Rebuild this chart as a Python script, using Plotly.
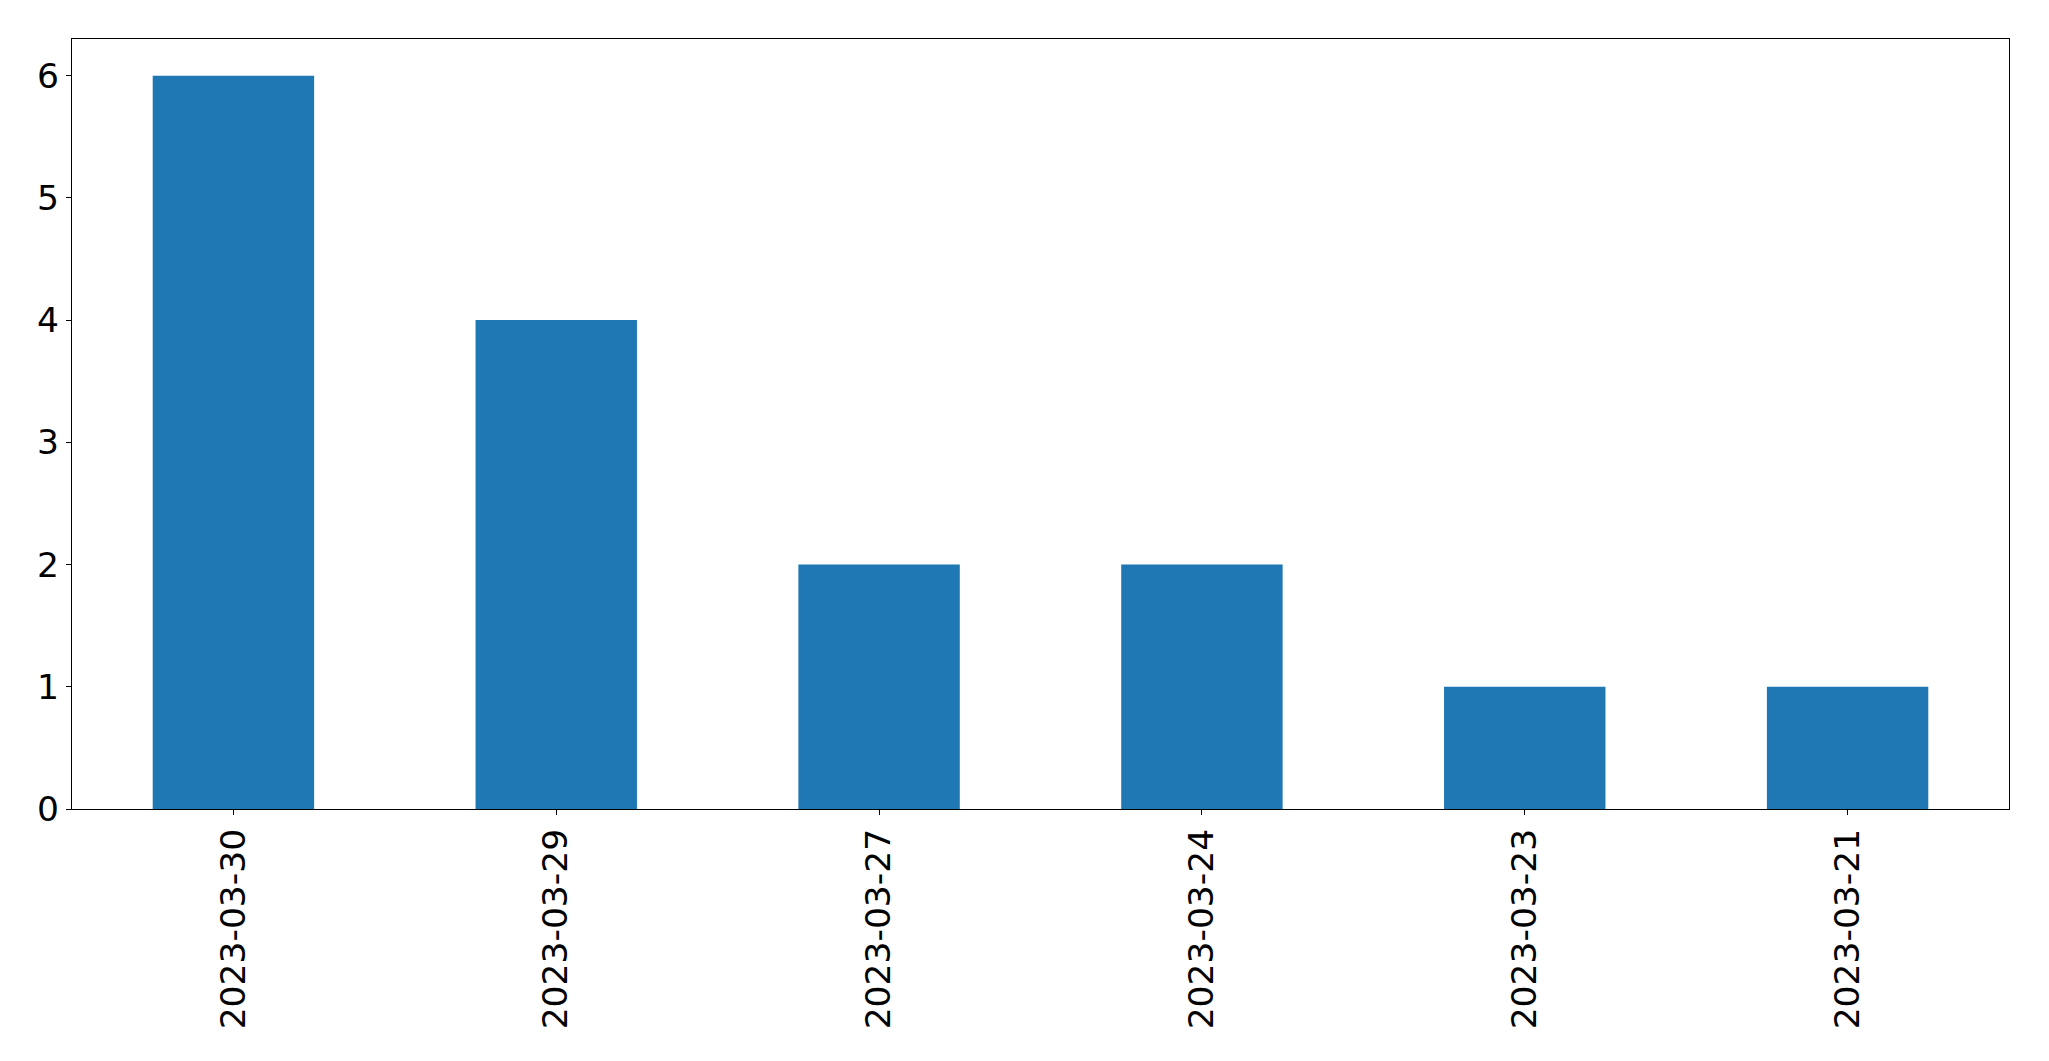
import plotly.graph_objects as go

dates = ["2023-03-30", "2023-03-29", "2023-03-27", "2023-03-24", "2023-03-23", "2023-03-21"]
counts = [6, 4, 2, 2, 1, 1]
y_ticks = [0, 1, 2, 3, 4, 5, 6]

fig = go.Figure(go.Bar(x=dates, y=counts, width=0.5, marker_color="#1f77b4",
                       marker_line_width=0))

font = dict(family="DejaVu Sans", size=34.5, color="black")
axis_common = dict(showline=True, linecolor="black", linewidth=1.1, mirror=True,
                   ticks="outside", ticklen=5, tickwidth=1.1, tickcolor="black",
                   showgrid=False, zeroline=False, tickfont=font, automargin=False)

fig.update_layout(
    width=2049, height=1061,
    margin=dict(l=64, r=48, t=31, b=260),
    paper_bgcolor="white", plot_bgcolor="white",
    showlegend=False,
    xaxis=dict(type="category", range=[-0.5, 5.5], tickangle=-90, **axis_common),
    yaxis=dict(range=[0, 6.3], tickvals=y_ticks, ticktext=[str(v) for v in y_ticks],
               **axis_common),
)

fig.write_html("out.html")
